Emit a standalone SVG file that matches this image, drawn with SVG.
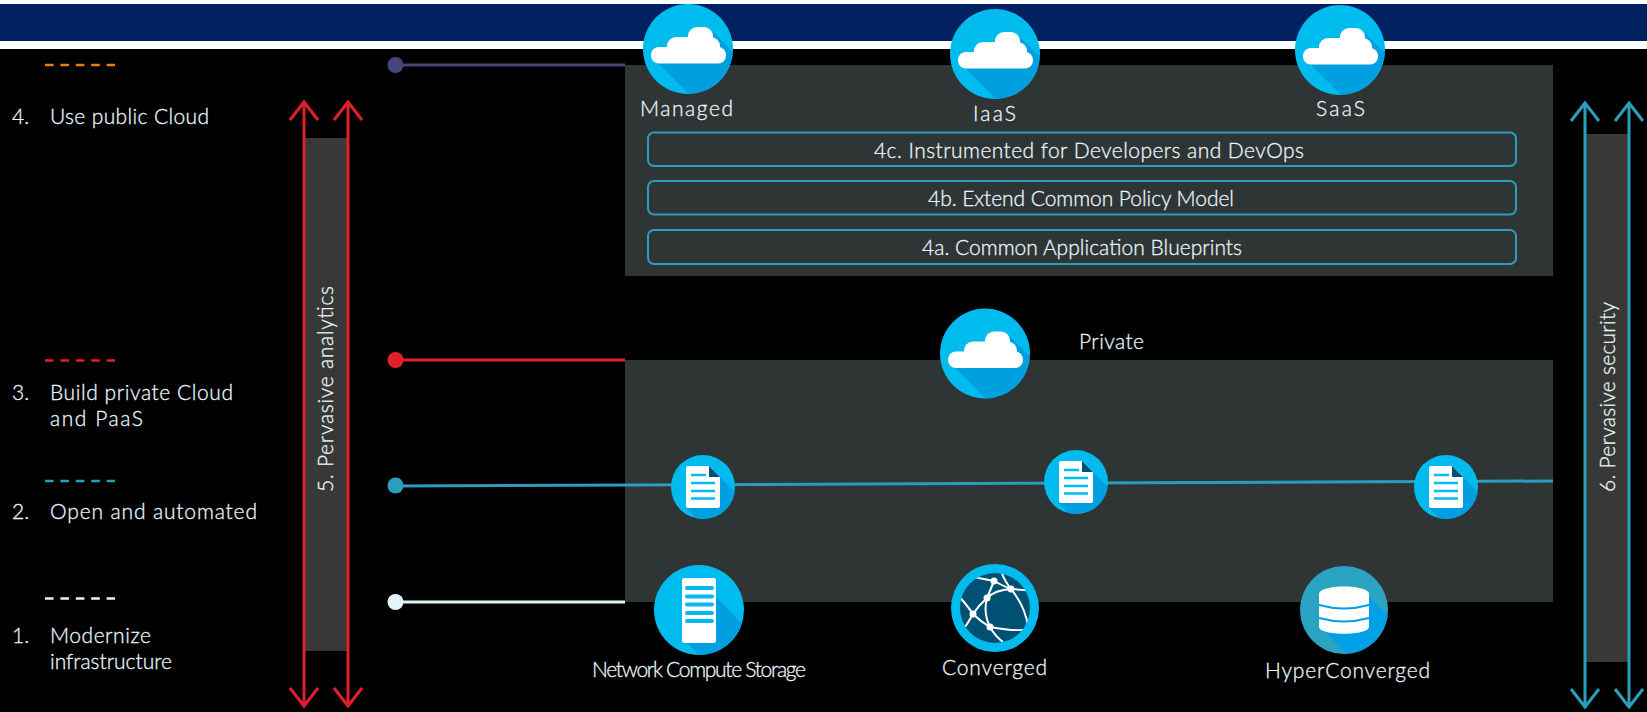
<svg xmlns="http://www.w3.org/2000/svg" width="1647" height="712" viewBox="0 0 1647 712">
<style>
text{font-family:"Lato","Liberation Sans",sans-serif;font-size:21px;font-weight:300;fill:#e8f6fa;stroke:#e8f6fa;stroke-width:.3px}
.base{fill:#00bcee}.shade{fill:#00a0e0}.wh{fill:#fff}
.dash{fill:none;stroke-width:2.500;stroke-dasharray:8.600 6.800}
.rb{fill:none;stroke:#2a9fbd;stroke-width:2}
.ln{fill:none;stroke-width:3}
.ar{fill:none;stroke-width:3}
</style>
<defs>
<clipPath id="c45"><circle r="45"/></clipPath>
<clipPath id="c44"><circle r="44"/></clipPath>
<clipPath id="c32"><circle r="32"/></clipPath>
<clipPath id="c35"><circle r="35"/></clipPath>
<g id="cloud"><circle r="45" class="base"/><polygon class="shade" clip-path="url(#c45)" points="-30,14 20,64 70,64 70,28 25,-17"/>
<rect x="-37" y="-2" width="75" height="16.500" rx="8" class="wh"/><rect x="-21" y="-12" width="53" height="24" rx="9" class="wh"/><rect x="0" y="-22" width="25" height="24" rx="9" class="wh"/></g>
<g id="doc"><circle r="32" class="base"/><polygon class="shade" clip-path="url(#c32)" points="-17,21 -5,33 35,33 35,8 17,-10"/>
<path class="wh" d="M-17-19a2 2 0 0 1 2-2H6L17-10V19a2 2 0 0 1-2 2H-15a2 2 0 0 1-2-2Z"/><polygon fill="#005073" points="6,-21 17,-10 6,-10"/>
<path d="M-12-12H3M-12-4H12M-12 4H12M-12 11.500H12" stroke="#00bcee" stroke-width="2.500" fill="none"/></g>
<g id="arrowSet"><path class="ar" d="M0 2V606M-14 20L0 2L14 20M-14 588L0 606L14 588M44 2V606M30 20L44 2L58 20M30 588L44 606L58 588"/></g>
</defs>
<rect width="1647" height="712" fill="#000"/>
<rect width="1647" height="49" fill="#fff"/>
<rect y="4" width="1647" height="37" fill="#00205f"/>
<g id="panel-public"><rect x="625" y="65" width="928" height="211" fill="#2f3435"/></g>
<g id="panel-private"><rect x="625" y="360" width="928" height="242" fill="#2f3435"/></g>
<g id="connectors">
<path class="ln" d="M395 65H625" stroke="#44467a"/>
<path class="ln" d="M395 360H625" stroke="#e01f2b"/>
<path class="ln" d="M395 486L1553 481" stroke="#2a9fbd"/>
<path class="ln" d="M395 602H625" stroke="#e0f6fa"/>
<circle cx="395.500" cy="65" r="8" fill="#44467a"/>
<circle cx="395.500" cy="360" r="8" fill="#e01f2b"/>
<circle cx="395.500" cy="485.500" r="8" fill="#2a9fbd"/>
<circle cx="395.500" cy="602" r="8" fill="#e0f6fa"/>
</g>
<g id="legend">
<path class="dash" d="M45 65H115" stroke="#e87d1e"/>
<text x="12" y="124">4.</text><text x="50" y="124" textLength="159">Use public Cloud</text>
<path class="dash" d="M45 360.500H115" stroke="#e01f2b"/>
<text x="12" y="400">3.</text><text x="50" y="400" textLength="183">Build private Cloud</text><text x="50" y="426" textLength="93">and PaaS</text>
<path class="dash" d="M45 481H115" stroke="#2a9fbd"/>
<text x="12" y="519">2.</text><text x="50" y="519" textLength="207">Open and automated</text>
<path class="dash" d="M45 598.500H115" stroke="#e0f6fa"/>
<text x="12" y="643">1.</text><text x="50" y="643" textLength="101">Modernize</text><text x="50" y="669" textLength="122">infrastructure</text>
</g>
<g id="analytics">
<rect x="305" y="138" width="42" height="513" fill="#383838"/>
<use href="#arrowSet" x="304" y="100" stroke="#e01f2b"/>
<text transform="translate(333 492) rotate(-90)" textLength="206">5. Pervasive analytics</text>
</g>
<g id="security">
<rect x="1586" y="134" width="42" height="528" fill="#383838"/>
<use href="#arrowSet" x="1585" y="101" stroke="#2a9fbd"/>
<text transform="translate(1615 492) rotate(-90)" textLength="190">6. Pervasive security</text>
</g>
<g id="node-managed"><use href="#cloud" x="688" y="49"/><text x="640" y="116" textLength="93">Managed</text></g>
<g id="node-iaas"><use href="#cloud" x="995" y="54"/><text x="973" y="121" textLength="43">IaaS</text></g>
<g id="node-saas"><use href="#cloud" x="1340" y="50"/><text x="1316" y="116" textLength="49">SaaS</text></g>
<g id="box-4c"><rect class="rb" x="648" y="132.500" width="868" height="33.500" rx="6"/><text x="874" y="158" textLength="430">4c. Instrumented for Developers and DevOps</text></g>
<g id="box-4b"><rect class="rb" x="648" y="181" width="868" height="33.500" rx="6"/><text x="928" y="206" textLength="306">4b. Extend Common Policy Model</text></g>
<g id="box-4a"><rect class="rb" x="648" y="230" width="868" height="34" rx="6"/><text x="922" y="255" textLength="320">4a. Common Application Blueprints</text></g>
<g id="node-private"><use href="#cloud" x="985" y="353.500"/><text x="1079" y="349" textLength="65">Private</text></g>
<g id="doc-1"><use href="#doc" x="703" y="487"/></g>
<g id="doc-2"><use href="#doc" x="1076" y="482"/></g>
<g id="doc-3"><use href="#doc" x="1446" y="487"/></g>
<g id="node-network" transform="translate(699 610)">
<circle r="45" class="base"/><polygon class="shade" clip-path="url(#c45)" points="-12,33 18,63 70,63 70,40 17,-13"/>
<rect x="-17" y="-32" width="34" height="65" rx="2.500" class="wh"/>
<path d="M-12-22H13M-12-13.500H13M-12-5.500H13M-12 3H13M-12 11H13" stroke="#00bcee" stroke-width="4" stroke-linecap="round" fill="none"/>
<text x="-107" y="67" textLength="214">Network Compute Storage</text></g>
<g id="node-converged" transform="translate(995 608)">
<circle r="44" class="base"/><circle r="35" fill="#005073"/>
<g clip-path="url(#c35)" fill="none" stroke="#fff" stroke-width="2"><path d="M-30-32Q-14-30-1-27Q8-22 16-19Q28-18 40-17M-8-10Q0-18 16-19M-8-10Q-16-3-22 6Q-14 14-5 19Q20 24 36 21M-8-10Q-12 5-5 19Q0 28 8 34M-22 6Q-28-3-38-14M-22 6Q-27 15-32 22M16-19Q30-2 33 18M-1-27L-8-10M16-19Q6-32 6-40"/></g>
<g fill="#fff"><circle cx="-1" cy="-27" r="3.500"/><circle cx="16" cy="-19" r="3.500"/><circle cx="-8" cy="-10" r="3.500"/><circle cx="-22" cy="6" r="3.500"/><circle cx="-5" cy="19" r="3.500"/></g>
<text x="-53" y="67" textLength="105">Converged</text></g>
<g id="node-hyper" transform="translate(1344 610)">
<circle r="44" fill="#2aa4c2"/><polygon fill="#00a0e6" clip-path="url(#c44)" points="-25,16 10,51 60,51 60,22 25,-13"/>
<path class="wh" d="M-25-16C-25-26 25-26 25-16V17C25 26-25 26-25 17Z"/>
<path d="M-25-5Q0 2 25-5M-25 8Q0 15 25 8" stroke="#00a0e6" stroke-width="2" fill="none"/>
<text x="-79" y="68" textLength="165">HyperConverged</text></g>
</svg>
